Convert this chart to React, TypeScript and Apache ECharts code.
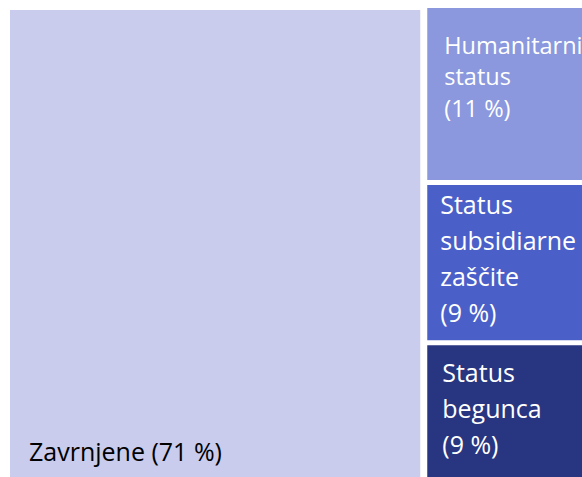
import React, { useEffect, useRef } from "react";
import * as echarts from "echarts";

const categories = ["Zavrnjene", "Humanitarni status", "Status subsidiarne zaščite", "Status begunca"];
// area shares (printed labels are rounded)
const values = [71, 10.5, 9.5, 9.0];
const labelLines = [
  ["Zavrnjene (71 %)"],
  ["Humanitarni", "status", "(11 %)"],
  ["Status", "subsidiarne", "zaščite", "(9 %)"],
  ["Status", "begunca", "(9 %)"],
];
const colors = ["#C9CCED", "#8B98DD", "#4B5FC9", "#283580"];
const textColors = ["#000000", "#ffffff", "#ffffff", "#ffffff"];

export default function App() {
  const ref = useRef<HTMLDivElement>(null);
  useEffect(() => {
    const chart = echarts.init(ref.current!, null, { renderer: "svg" });
    const pads = [
      [0, 0, 24, 19],
      [21, 0, 0, 17],
      [1, 0, 0, 13],
      [8.5, 0, 0, 15],
    ];
    const lineHeights = [30, 31.5, 36, 36];
    const fontSizes = [25, 23.5, 25, 25];
    const data = categories.map((name, i) => ({
      name,
      value: values[i],
      itemStyle: {
        color: colors[i],
        borderWidth: i === 0 ? 2 : 0,
        borderColor: "#ffffff",
      },
      label: {
        show: true,
        position: i === 0 ? "insideBottomLeft" : "insideTopLeft",
        color: textColors[i],
        fontFamily: "Open Sans",
        fontSize: fontSizes[i],
        fontWeight: "normal",
        lineHeight: lineHeights[i],
        overflow: "none",
        lineOverflow: "none",
        formatter: () => labelLines[i].join("\n"),
        padding: pads[i],
      },
    }));
    chart.setOption({
      animation: false,
      series: [
        {
          type: "treemap",
          left: 8,
          top: 8,
          width: 585.5,
          height: 484,
          roam: false,
          nodeClick: false,
          breadcrumb: { show: false },
          sort: false,
          upperLabel: { show: false },
          itemStyle: { gapWidth: 5, borderWidth: 0 },
          levels: [{ itemStyle: { gapWidth: 5, borderWidth: 0 } }],
          data,
        },
      ],
    });
    return () => chart.dispose();
  }, []);
  return (
    <div
      ref={ref}
      style={{ position: "fixed", left: 0, top: 0, width: 582, height: 477, background: "#fff" }}
    />
  );
}
